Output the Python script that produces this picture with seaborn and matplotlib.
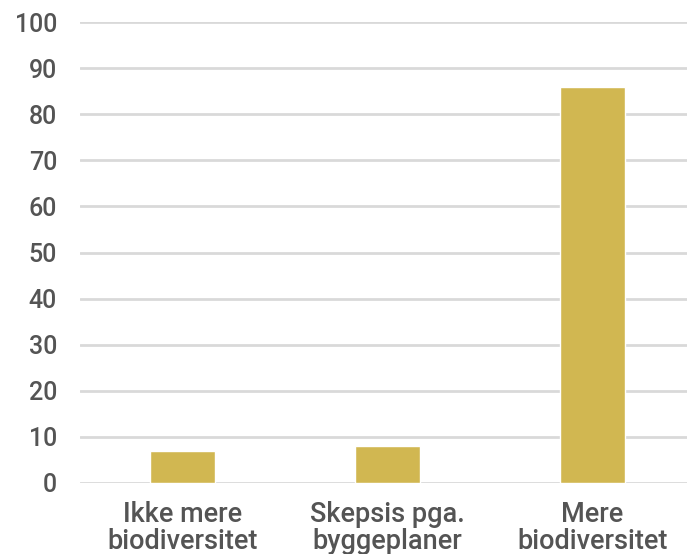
import matplotlib
matplotlib.use("Agg")
import matplotlib.pyplot as plt
import seaborn as sns
import pandas as pd

# data
categories = ["Ikke mere\nbiodiversitet", "Skepsis pga.\nbyggeplaner", "Mere\nbiodiversitet"]
values = [7, 8, 86]
y_ticks = [0, 10, 20, 30, 40, 50, 60, 70, 80, 90, 100]

bar_color = "#D1B751"
grid_color = "#D9D9D9"
text_color = "#545454"

sns.set_style("white")
plt.rcParams["font.family"] = ["Roboto", "DejaVu Sans"]

df = pd.DataFrame({"category": categories, "value": values})

fig = plt.figure(figsize=(6.87, 5.54), dpi=100)
# axes run past the right edge, as in the reference
ax = fig.add_axes([80 / 687, 71 / 554, 615 / 687, 461 / 554])

sns.barplot(data=df, x="category", y="value", color=bar_color,
            width=0.317, saturation=1, ax=ax, zorder=3)

ax.set_ylim(0, 100)
ax.set_yticks(y_ticks)
ax.set_xlim(-0.5, 2.5)
ax.yaxis.grid(True, color=grid_color, linewidth=2, zorder=0)
ax.xaxis.grid(False)
for s in ax.spines.values():
    s.set_visible(False)

ax.set_xlabel("")
ax.set_ylabel("")
ax.tick_params(axis="y", length=0, pad=16.5, labelsize=18, labelcolor=text_color)
ax.tick_params(axis="x", length=0, pad=13, labelsize=19.5, labelcolor=text_color)
for lbl in ax.get_xticklabels() + ax.get_yticklabels():
    lbl.set_fontweight("medium")
for lbl in ax.get_xticklabels():
    lbl.set_linespacing(1.0)

fig.savefig("out.png", dpi=100)
